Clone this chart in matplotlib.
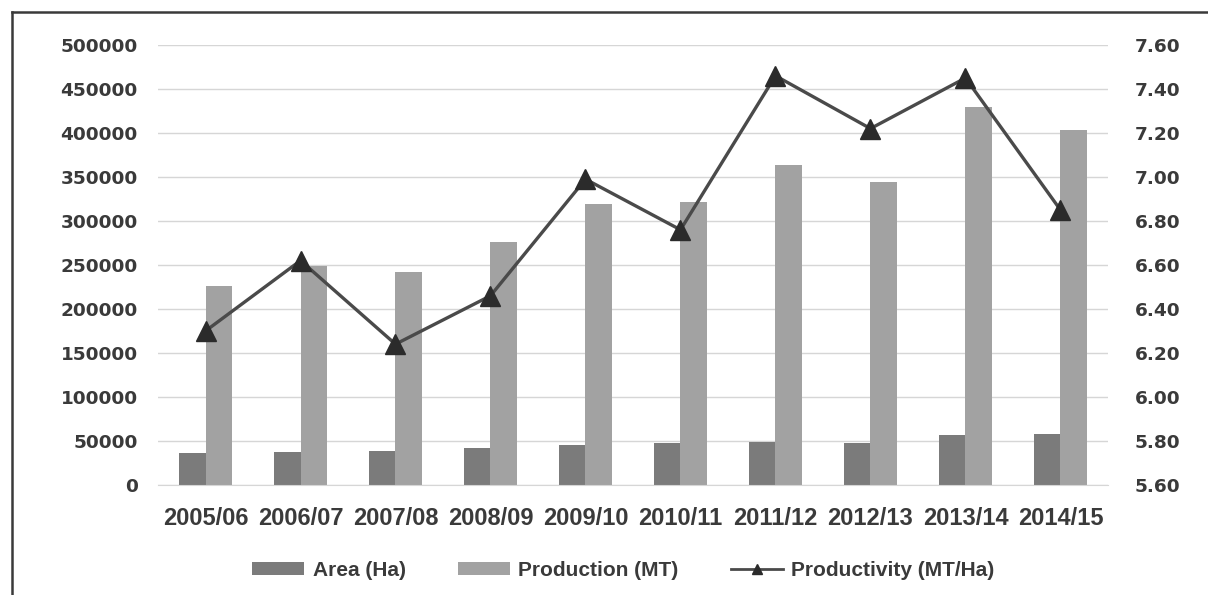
import numpy as np
import matplotlib.pyplot as plt
from matplotlib.lines import Line2D

seasons = ["2005/06", "2006/07", "2007/08", "2008/09", "2009/10",
           "2010/11", "2011/12", "2012/13", "2013/14", "2014/15"]
area_ha = [36000, 37500, 39000, 42500, 45500, 47500, 48500, 47500, 57000, 58500]
production_mt = [226000, 249000, 242000, 276000, 319000, 322000, 364000, 344000, 430000, 403000]
productivity = [6.30, 6.62, 6.24, 6.46, 6.99, 6.76, 7.46, 7.22, 7.45, 6.85]

left_ticks = np.arange(0, 500001, 50000)
right_ticks = np.arange(5.6, 7.61, 0.2)

TXT = "#3a3a3a"
W = 0.28

fig = plt.figure(figsize=(12.08, 5.95), dpi=100)
ax = fig.add_axes([0.1308, 0.1849, 0.7864, 0.7395])
ax2 = ax.twinx()

x = np.arange(len(seasons))
ax.bar(x - W / 2, area_ha, W, color="#7b7b7b", label="Area (Ha)", zorder=2)
ax.bar(x + W / 2, production_mt, W, color="#a2a2a2", label="Production (MT)", zorder=2)

ax2.plot(x, productivity, color="#4a4a4a", lw=2.4, marker="^", ms=14,
         mfc="#2b2b2b", mec="#2b2b2b", label="Productivity (MT/Ha)", zorder=3)

ax.set_xlim(-0.5, len(seasons) - 0.5)
ax.set_ylim(0, 500000)
ax2.set_ylim(5.6, 7.6)
ax.set_yticks(left_ticks)
ax.set_yticklabels([f"{v:d}" for v in left_ticks])
ax2.set_yticks(right_ticks)
ax2.set_yticklabels([f"{v:.2f}" for v in right_ticks])
ax.set_xticks(x)
ax.set_xticklabels(seasons, fontfamily="Liberation Sans", fontweight="bold",
                   fontsize=17, color=TXT)

ax.yaxis.grid(True, color="#d6d6d6", lw=1.0, zorder=0)
ax.set_axisbelow(True)
for a in (ax, ax2):
    for s in a.spines.values():
        s.set_visible(False)
ax.spines["bottom"].set_visible(True)
ax.spines["bottom"].set_color("#d6d6d6")

ax.tick_params(axis="x", length=0, pad=16)
ax.tick_params(axis="y", length=0, pad=14.5, labelcolor=TXT)
ax2.tick_params(axis="y", length=0, pad=19.5, labelcolor=TXT)
for lab in ax.get_yticklabels() + ax2.get_yticklabels():
    lab.set_fontweight("bold")
    lab.set_fontsize(13.3)
    lab.set_fontfamily("DejaVu Sans")

h1, l1 = ax.get_legend_handles_labels()
h2, l2 = ax2.get_legend_handles_labels()
leg = fig.legend(h1 + h2, l1 + l2, loc="center", bbox_to_anchor=(0.516, 0.042),
                 ncol=3, frameon=False, handlelength=2.5, handleheight=0.6,
                 handletextpad=0.4, columnspacing=2.5,
                 prop={"family": "Liberation Sans", "weight": "bold", "size": 15})
for t in leg.get_texts():
    t.set_color(TXT)
leg.legend_handles[2].set_markersize(7)
leg.legend_handles[2].set_linewidth(2)

# outer frame: top and left edges only
fx0, fy0 = 12 / 1208, 1 - 12 / 595
fig.add_artist(Line2D([fx0, 1], [fy0, fy0], transform=fig.transFigure, color="#3a3a3a", lw=1.8))
fig.add_artist(Line2D([fx0, fx0], [0, fy0], transform=fig.transFigure, color="#3a3a3a", lw=1.8))

fig.savefig("out.png", dpi=100)
